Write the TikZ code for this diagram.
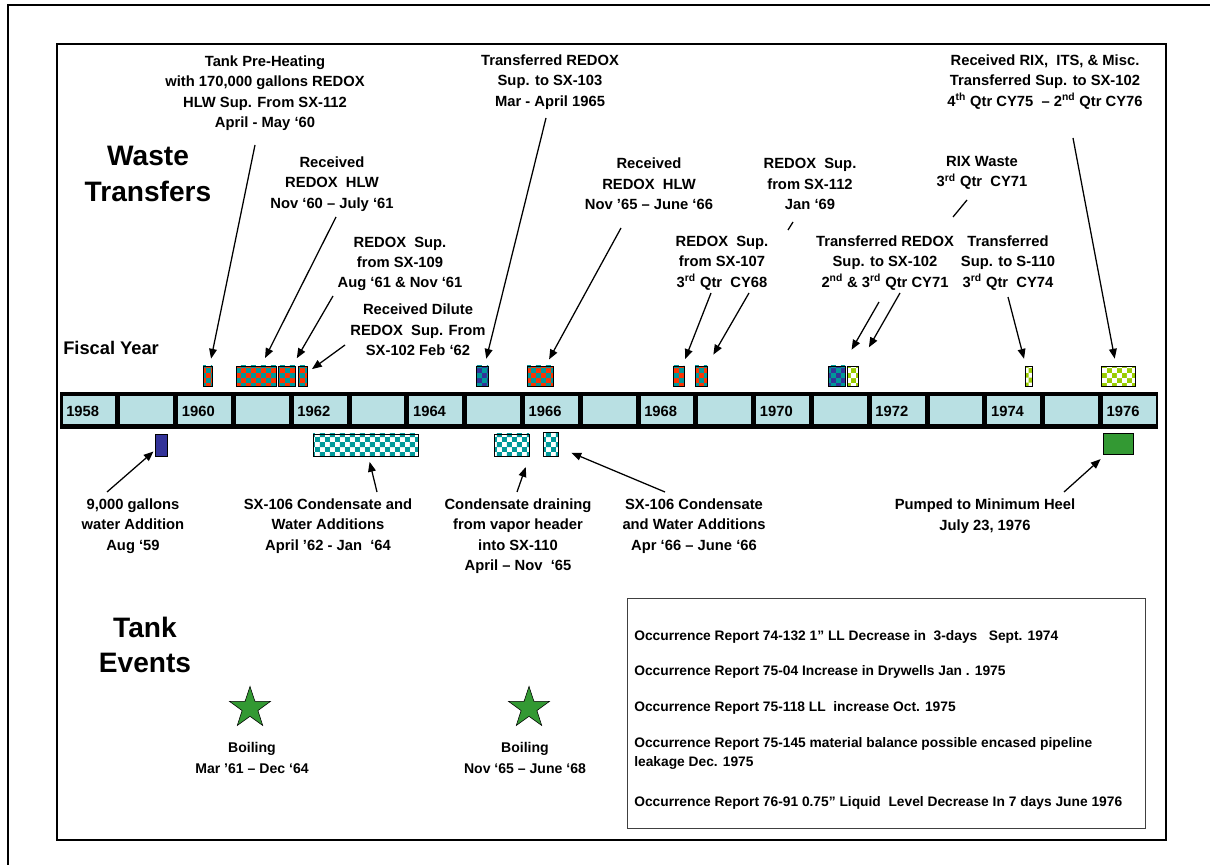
\documentclass[tikz,border=0pt]{standalone}
\usepackage{fontspec}
\setmainfont{Liberation Sans}
\usetikzlibrary{arrows.meta,patterns,shapes.geometric,fit,calc}
\definecolor{EvRed}{HTML}{FF3300}
\definecolor{EvTeal}{HTML}{009999}
\definecolor{EvBlue}{HTML}{333399}
\definecolor{EvLime}{HTML}{99CC00}
\definecolor{EvGreen}{HTML}{339933}
\definecolor{CellBlue}{HTML}{B9E0E3}
\pgfdeclarepatternformonly{bigchecks}{\pgfpointorigin}{\pgfqpoint{7pt}{7pt}}{\pgfqpoint{7pt}{7pt}}{%
  \pgfpathrectangle{\pgfpointorigin}{\pgfqpoint{3.5pt}{3.5pt}}%
  \pgfpathrectangle{\pgfqpoint{3.5pt}{3.5pt}}{\pgfqpoint{3.5pt}{3.5pt}}%
  \pgfusepath{fill}}
\tikzset{
  lbl/.style={align=center, inner sep=0pt, font=\fontsize{10.5}{14.5}\selectfont\bfseries},
  small/.style={align=center, inner sep=0pt, font=\fontsize{10}{14.5}\selectfont\bfseries},
  big/.style={align=center, inner sep=0pt, font=\fontsize{20}{25}\selectfont\bfseries},
  occ/.style={anchor=west, align=left, inner sep=0pt, font=\fontsize{9.8}{13.5}\selectfont\bfseries},
  yr/.style={anchor=west, inner sep=0pt, font=\fontsize{10.5}{12}\selectfont\bfseries},
  evbox/.style={draw, line width=.6pt, inner sep=0pt},
  redbox/.style={evbox, preaction={fill=EvRed}, pattern=bigchecks, pattern color=EvTeal},
  bluebox/.style={evbox, preaction={fill=EvBlue}, pattern=bigchecks, pattern color=EvTeal},
  limebox/.style={evbox, preaction={fill=EvLime}, pattern=bigchecks, pattern color=white},
  tealbox/.style={evbox, preaction={fill=white}, pattern=bigchecks, pattern color=EvTeal},
  boilstar/.style={star, star points=5, star point ratio=2.6, minimum size=1.08cm, inner sep=0pt, draw, fill=EvGreen},
  arr/.style={-{Triangle[length=7pt,width=5.5pt]}, line width=.9pt}
}
\begin{document}
\begin{tikzpicture}[x=0.025cm, y=-0.025cm]
    \path[use as bounding box] (0,0) rectangle (1210,865);
    % frames
    \draw[line width=1.4pt] (8,865) -- (8,5) -- (1210,5);
    \draw[line width=1.4pt] (57,44) rectangle (1166,840);

    % fiscal year bar
    \fill (60,392) rectangle (1158,429);
    \foreach \i in {0,...,18}
    {
        \pgfmathsetmacro\xa{60+57.8*\i}
        \fill[CellBlue] (\xa+2.5,396.5) rectangle (\xa+55.3,424.5);
    }
    \foreach \i in {0,2,...,18}
    {
        \pgfmathtruncatemacro\yr{1958+\i}
        \node[yr] (y\yr) at (60+57.8*\i+6,411) {\yr};
    }

    \node[big] (wt) at (148,174) {Waste\\Transfers};
    \node[big] (te) at (145,645) {Tank\\Events};
    \node[anchor=west, inner sep=0pt, font=\fontsize{13}{15}\selectfont\bfseries] (fy) at (63,348) {Fiscal Year};

    % transfers above the bar
    \node[redbox, fit={(203,366) (212,386)}] (b60) {};
    \node[redbox, fit={(236,366) (276,386)}] (b61a) {};
    \node[redbox, fit={(278,366) (295,386)}] (b61b) {};
    \node[redbox, fit={(298,366) (307,386)}] (b62) {};
    \node[bluebox, fit={(476,366) (488,386)}] (b65) {};
    \node[redbox, fit={(527,366) (553,386)}] (b66) {};
    \node[redbox, fit={(673,366) (684,386)}] (b68a) {};
    \node[redbox, fit={(695,366) (707,386)}] (b68b) {};
    \node[bluebox, fit={(828,366) (845,386)}] (b71a) {};
    \node[limebox, fit={(847,366) (858,386)}] (b71b) {};
    \node[limebox, fit={(1025,366) (1032,386)}] (b74) {};
    \node[limebox, fit={(1101,366) (1135,386)}] (b76) {};

    % additions below the bar
    \node[evbox, fill=EvBlue, fit={(155,434) (167,456)}] (c59) {};
    \node[tealbox, fit={(313,434) (418,456)}] (c62) {};
    \node[tealbox, fit={(494,434) (529,456)}] (c65) {};
    \node[tealbox, fit={(543,432) (558,456)}] (c66) {};
    \node[evbox, fill=EvGreen, fit={(1103,433) (1133,454)}] (c76) {};

    \node[lbl] (tph) at (265,93) {Tank Pre-Heating\\with 170,000 gallons REDOX\\HLW Sup. From SX-112\\April - May ‘60};
    \node[lbl] (rhlw) at (332,184) {Received\\REDOX\ \ HLW\\Nov ‘60 – July ‘61};
    \node[lbl] (sx109) at (400,264) {REDOX\ \ Sup.\\from SX-109\\Aug ‘61 \& Nov ‘61};
    \node[lbl] (dil) at (418,330) {Received Dilute\\REDOX\ \ Sup. From\\SX-102 Feb ‘62};
    \node[lbl] (to103) at (550,82) {Transferred REDOX\\Sup. to SX-103\\Mar - April 1965};
    \node[lbl] (rhlw2) at (649,184) {Received\\REDOX\ \ HLW\\Nov ’65 – June ‘66};
    \node[lbl] (sx112) at (810,184) {REDOX\ \ Sup.\\from SX-112\\Jan ‘69};
    \node[lbl] (sx107) at (722,263) {REDOX\ \ Sup.\\from SX-107\\3\textsuperscript{rd} Qtr\ \ CY68};
    \node[lbl] (rix) at (982,173) {RIX Waste\\3\textsuperscript{rd} Qtr\ \ CY71};
    \node[lbl] (to102) at (885,263) {Transferred REDOX\\Sup. to SX-102\\2\textsuperscript{nd} \& 3\textsuperscript{rd} Qtr CY71};
    \node[lbl] (tos110) at (1008,263) {Transferred\\Sup. to S-110\\3\textsuperscript{rd} Qtr\ \ CY74};
    \node[lbl] (misc) at (1045,82) {Received RIX,\ \ ITS, \& Misc.\\Transferred Sup. to SX-102\\4\textsuperscript{th} Qtr CY75\ \ –\ 2\textsuperscript{nd} Qtr CY76};

    \node[lbl] (gal) at (133,526) {9,000 gallons\\water Addition\\Aug ‘59};
    \node[lbl] (sx106a) at (328,526) {SX-106 Condensate and\\Water Additions\\April ’62 - Jan\ \ ‘64};
    \node[lbl] (drain) at (518,536) {Condensate draining\\from vapor header\\into SX-110\\April – Nov\ \ ‘65};
    \node[lbl] (sx106b) at (694,526) {SX-106 Condensate\\and Water Additions\\Apr ‘66 – June ‘66};
    \node[lbl] (pump) at (985,516) {Pumped to Minimum Heel\\July 23, 1976};

    % arrows
    \coordinate (tphA) at (255,145);
    \coordinate (rhlwA) at (336,217);
    \coordinate (sx109A) at (333,296);
    \coordinate (dilA) at (345,345);
    \coordinate (to103A) at (546,118);
    \coordinate (rhlw2A) at (621,228);
    \coordinate (sx107A) at (711,293);
    \coordinate (sx107B) at (749,293);
    \coordinate (to102A) at (879,302);
    \coordinate (to102B) at (900,293);
    \coordinate (tos110A) at (1008,297);
    \coordinate (miscA) at (1073,138);
    \draw[arr, shorten >=5pt] (tphA) -- (b60);
    \draw[arr, shorten >=6pt] (rhlwA) -- (b61a);
    \draw[arr, shorten >=6pt] (sx109A) -- (b61b);
    \draw[arr, shorten >=4pt] (dilA) -- (b62);
    \draw[arr, shorten >=5pt] (to103A) -- (b65);
    \draw[arr, shorten >=5pt] (rhlw2A) -- (b66);
    \draw[arr, shorten >=5pt] (sx107A) -- (b68a);
    \draw[arr, shorten >=9pt] (sx107B) -- (b68b);
    \draw[arr, shorten >=13pt] (to102A) -- (b71a);
    \draw[arr, shorten >=15pt] (to102B) -- (b71b);
    \draw[arr, shorten >=5pt] (tos110A) -- (b74);
    \draw[arr, shorten >=5pt] (miscA) -- (b76);

    \coordinate (galA) at (107,492);
    \coordinate (sx106aA) at (377,492);
    \coordinate (drainA) at (517,492);
    \coordinate (sx106bA) at (665,492);
    \coordinate (pumpA) at (1064,492);
    \draw[arr, shorten >=1pt] (galA) -- (c59);
    \draw[arr, shorten >=4pt] (sx106aA) -- (c62);
    \draw[arr, shorten >=8pt] (drainA) -- (c65.south east);
    \draw[arr, shorten >=10pt] (sx106bA) -- (c66);
    \draw[arr, shorten >=5pt] (pumpA) -- (c76);

    % stray ticks
    \coordinate (jan69A) at (788,230);
    \coordinate (jan69B) at (793,222);
    \draw[line width=.9pt] (jan69A) -- (jan69B);
    \coordinate (rixA) at (953,217);
    \coordinate (rixB) at (967,200);
    \draw[line width=.9pt] (rixA) -- (rixB);

    % tank events
    \node[boilstar] (star1) at (250,708) {};
    \node[boilstar] (star2) at (529,708) {};
    \node[small] (boil1) at (252,758) {Boiling\\Mar ’61 – Dec ‘64};
    \node[small] (boil2) at (525,758) {Boiling\\Nov ‘65 – June ‘68};

    % occurrence reports
    \draw[black!75, line width=.6pt] (627,598) rectangle (1145,828);
    \node[occ] (occ1) at (634,637) {Occurrence Report 74-132 1” LL Decrease in\ \ 3-days\ \ \ Sept. 1974};
    \node[occ] (occ2) at (634,672) {Occurrence Report 75-04 Increase in Drywells Jan . 1975};
    \node[occ] (occ3) at (634,708) {Occurrence Report 75-118 LL\ \ increase Oct. 1975};
    \node[occ] (occ4) at (634,753.5) {Occurrence Report 75-145 material balance possible encased pipeline\\leakage Dec. 1975};
    \node[occ] (occ5) at (634,803) {Occurrence Report 76-91 0.75” Liquid\ \ Level Decrease In 7 days June 1976};
\end{tikzpicture}
\end{document}
